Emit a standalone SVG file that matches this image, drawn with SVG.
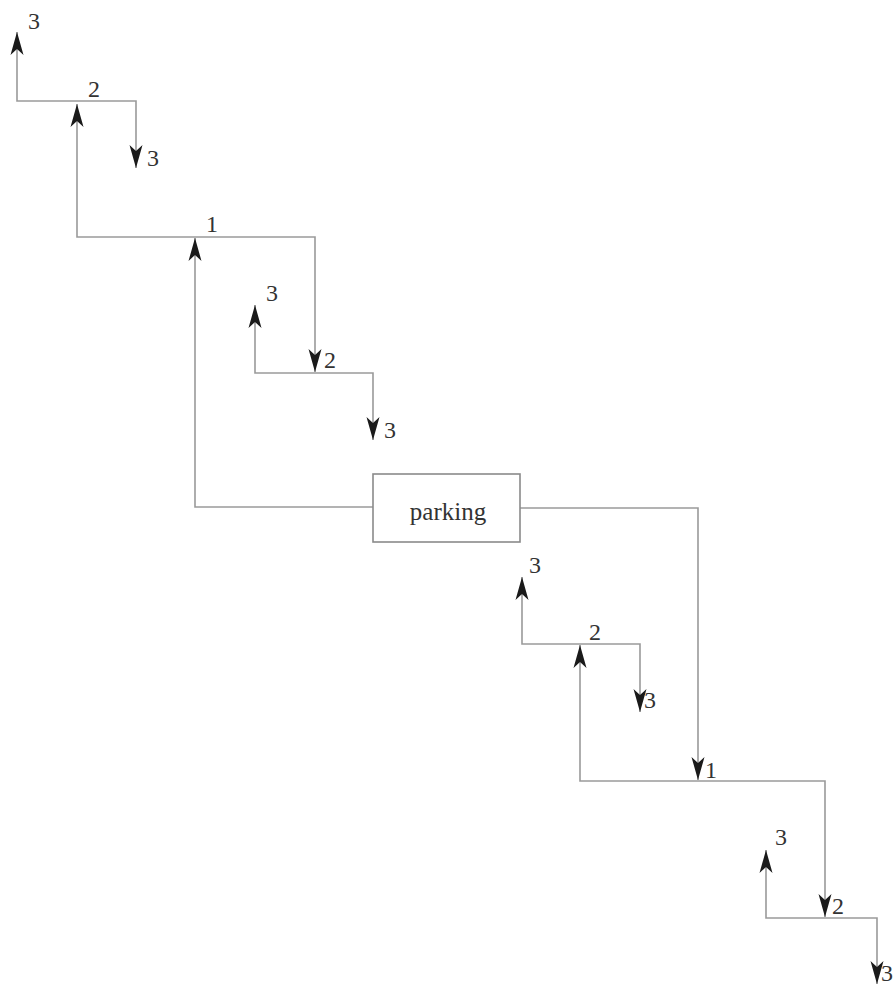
<svg xmlns="http://www.w3.org/2000/svg" width="893" height="986" viewBox="0 0 893 986">
<style>
.c{fill:none;stroke:#9a9a9a;stroke-width:1.6}
.l{font-family:"Liberation Serif","DejaVu Serif",serif;font-size:24px;fill:#333}
.box{fill:#fff;stroke:#8a8a8a;stroke-width:1.6}
</style>
<defs>
<marker id="ah" markerUnits="userSpaceOnUse" markerWidth="30" markerHeight="30" refX="0" refY="0" orient="auto" overflow="visible">
<path d="M0,0 L-23,-6.5 L-17,0 L-23,6.5 Z" fill="#1a1a1a"/>
</marker>
</defs>
<rect width="893" height="986" fill="#fff"/>
<g id="connectors">
<path class="c" d="M373,507 H195 V238" marker-end="url(#ah)"/>
<path class="c" d="M195,237 H77 V104" marker-end="url(#ah)"/>
<path class="c" d="M195,237 H315 V372" marker-end="url(#ah)"/>
<path class="c" d="M77,101 H17 V32" marker-end="url(#ah)"/>
<path class="c" d="M77,101 H136 V168" marker-end="url(#ah)"/>
<path class="c" d="M315,373 H255 V305" marker-end="url(#ah)"/>
<path class="c" d="M315,373 H373 V440" marker-end="url(#ah)"/>
<path class="c" d="M520,508 H698 V780" marker-end="url(#ah)"/>
<path class="c" d="M698,781 H580 V645" marker-end="url(#ah)"/>
<path class="c" d="M698,781 H825 V917" marker-end="url(#ah)"/>
<path class="c" d="M580,644 H522 V577" marker-end="url(#ah)"/>
<path class="c" d="M580,644 H640 V712" marker-end="url(#ah)"/>
<path class="c" d="M825,918 H766 V850" marker-end="url(#ah)"/>
<path class="c" d="M825,918 H877 V984" marker-end="url(#ah)"/>
</g>
<g id="parking">
<rect class="box" x="373" y="474" width="147" height="68"/>
<text class="l" x="448" y="520" text-anchor="middle" style="font-size:25px">parking</text>
</g>
<g id="labels">
<text class="l" x="206" y="232">1</text>
<text class="l" x="88" y="97">2</text>
<text class="l" x="324" y="368">2</text>
<text class="l" x="28" y="29">3</text>
<text class="l" x="147" y="166">3</text>
<text class="l" x="266" y="301">3</text>
<text class="l" x="384" y="438">3</text>
<text class="l" x="705" y="778">1</text>
<text class="l" x="589" y="640">2</text>
<text class="l" x="832" y="914">2</text>
<text class="l" x="529" y="573">3</text>
<text class="l" x="644" y="708">3</text>
<text class="l" x="775" y="845">3</text>
<text class="l" x="881" y="981">3</text>
</g>
</svg>
